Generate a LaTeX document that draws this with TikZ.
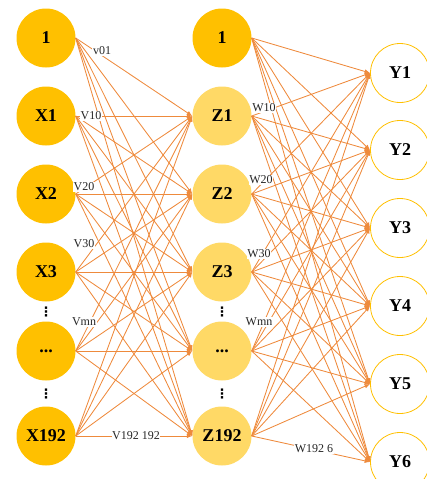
\documentclass[tikz,border=0pt]{standalone}
\usepackage{fontspec}
\setmainfont{Liberation Serif}
\newfontfamily\dotfont{DejaVu Sans}
\usetikzlibrary{arrows.meta}
\definecolor{gold}{HTML}{FFC000}
\definecolor{goldlt}{HTML}{FFD966}
\definecolor{wire}{HTML}{EE8A3C}

\begin{document}
\begin{tikzpicture}[x=1pt, y=-1pt,
    neu/.style ={circle, minimum size=59pt, inner sep=0pt,
                 font=\fontsize{18}{18}\selectfont\bfseries},
    inp/.style ={neu, fill=gold},
    hid/.style ={neu, fill=goldlt},
    outp/.style={neu, fill=white, draw=gold, line width=0.8pt},
    arr/.style ={-{Latex[length=5.5pt,width=4.5pt]}, line width=0.85pt, draw=wire},
    wt/.style  ={font=\fontsize{12}{12}\selectfont, fill=white,
                 inner sep=0.6pt, text=black!85},
    vd/.style  ={font=\dotfont\bfseries\fontsize{13}{13}\selectfont, inner sep=0pt},
  ]
  \useasboundingbox (0,0) rectangle (426,479);
  % input layer
  \node[inp] (b0)   at (46,38)  {1};
  \node[inp] (x1)   at (46,116) {X1};
  \node[inp] (x2)   at (46,194) {X2};
  \node[inp] (x3)   at (46,272) {X3};
  \node[inp] (xd)   at (46,351) {...};
  \node[inp] (x192) at (46,436) {X192};
  \node[vd]  (xv1)  at (46,312) {⋮};
  \node[vd]  (xv2)  at (46,394) {⋮};
  % hidden layer
  \node[inp] (b1)   at (222,38)  {1};
  \node[hid] (z1)   at (222,116) {Z1};
  \node[hid] (z2)   at (222,194) {Z2};
  \node[hid] (z3)   at (222,272) {Z3};
  \node[hid] (zd)   at (222,351) {...};
  \node[hid] (z192) at (222,436) {Z192};
  \node[vd]  (zv1)  at (222,312) {⋮};
  \node[vd]  (zv2)  at (222,394) {⋮};
  % output layer
  \node[outp] (y1) at (400,73)  {Y1};
  \node[outp] (y2) at (400,150) {Y2};
  \node[outp] (y3) at (400,228) {Y3};
  \node[outp] (y4) at (400,306) {Y4};
  \node[outp] (y5) at (400,384) {Y5};
  \node[outp] (y6) at (400,462) {Y6};
  % weights
  \foreach \s in {b0,x1,x2,x3,xd,x192}
    \foreach \t in {z1,z2,z3,zd,z192}
      \draw[arr] (\s.east) -- (\t.west);
  \foreach \s in {b1,z1,z2,z3,zd,z192}
    \foreach \t in {y1,y2,y3,y4,y5,y6}
      \draw[arr] (\s.east) -- (\t.west);
  % weight labels
  \node[wt] (v01)  at (102,51)  {v01};
  \node[wt] (v10)  at (91,116)  {V10};
  \node[wt] (v20)  at (84,187)  {V20};
  \node[wt] (v30)  at (84,244)  {V30};
  \node[wt] (vmn)  at (84,322)  {Vmn};
  \node[wt] (vlst) at (136,436) {V192 192};
  \node[wt] (w10)  at (264,108) {W10};
  \node[wt] (w20)  at (261,180) {W20};
  \node[wt] (w30)  at (259,254) {W30};
  \node[wt] (wmn)  at (259,322) {Wmn};
  \node[wt] (wlst) at (314,449) {W192 6};
\end{tikzpicture}
\end{document}
